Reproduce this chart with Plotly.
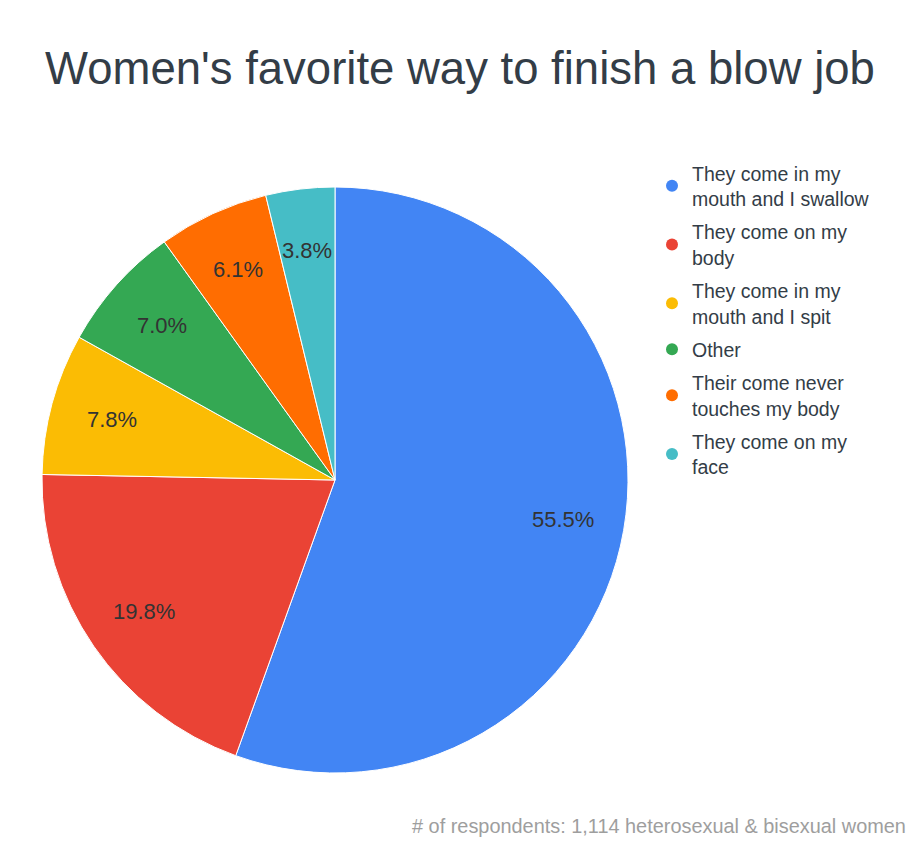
import math
import plotly.graph_objects as go

labels = [
    "They come in my<br>mouth and I swallow",
    "They come on my<br>body",
    "They come in my<br>mouth and I spit",
    "Other",
    "Their come never<br>touches my body",
    "They come on my<br>face",
]
shares = [55.5, 19.8, 7.8, 7.0, 6.1, 3.8]
colors = ["#4285F4", "#EA4335", "#FBBC04", "#34A853", "#FF6D01", "#46BDC6"]

W, H = 920, 842
OFF = 8  # page body margin
cx, cy, r = 335 - OFF, 480 - OFF, 293
TXT = "#333d47"

fig = go.Figure()
fig.add_trace(go.Pie(
    labels=labels, values=shares, sort=False, direction="clockwise", rotation=0,
    marker=dict(colors=colors, line=dict(color="white", width=1)),
    textinfo="none", showlegend=False, hoverinfo="label+percent",
    domain=dict(x=[(cx - r) / W, (cx + r) / W], y=[1 - (cy + r) / H, 1 - (cy - r) / H]),
))

# legend entries with round markers
for i, (lab, col) in enumerate(zip(labels, colors)):
    fig.add_trace(go.Scatter(x=[None], y=[None], mode="markers", name=lab, legendgroup=str(i),
                             marker=dict(color=col, size=12, symbol="circle")))

# slice labels, placed along each slice's middle angle
ann = []
cum = 0
for v in shares:
    a = 2 * math.pi * (cum + v / 2) / sum(shares)
    d = 0.79 * r
    ann.append(dict(text=f"{v:.1f}%", x=(cx + d * math.sin(a)) / W, y=1 - (cy - d * math.cos(a)) / H,
                    xref="paper", yref="paper", xanchor="center", yanchor="middle", showarrow=False,
                    font=dict(size=22, color="#333333")))
    cum += v

ann.append(dict(text="# of respondents: 1,114 heterosexual & bisexual women",
                x=(908 - OFF) / W, y=1 - (826 - OFF) / H, xref="paper", yref="paper",
                xanchor="right", yanchor="middle", showarrow=False,
                font=dict(size=19.9, color="#9e9e9e")))

fig.update_layout(
    width=W, height=H,
    margin=dict(l=0, r=0, t=0, b=0),
    paper_bgcolor="white", plot_bgcolor="white",
    font=dict(family="Liberation Sans, Arial", color=TXT),
    title=dict(text="Women's favorite way to finish a blow job", x=(460 - OFF) / W, xanchor="center",
               y=1 - (68 - OFF) / H, yanchor="middle",
               font=dict(size=45.5, color=TXT)),
    xaxis=dict(visible=False), yaxis=dict(visible=False),
    legend=dict(x=(652 - OFF) / W, y=1 - (154 - OFF) / H, xanchor="left", yanchor="top",
                font=dict(size=19.5, color=TXT), itemwidth=30,
                traceorder="grouped", tracegroupgap=5,
                bgcolor="rgba(0,0,0,0)"),
    annotations=ann,
)

fig.write_html("out.html")
